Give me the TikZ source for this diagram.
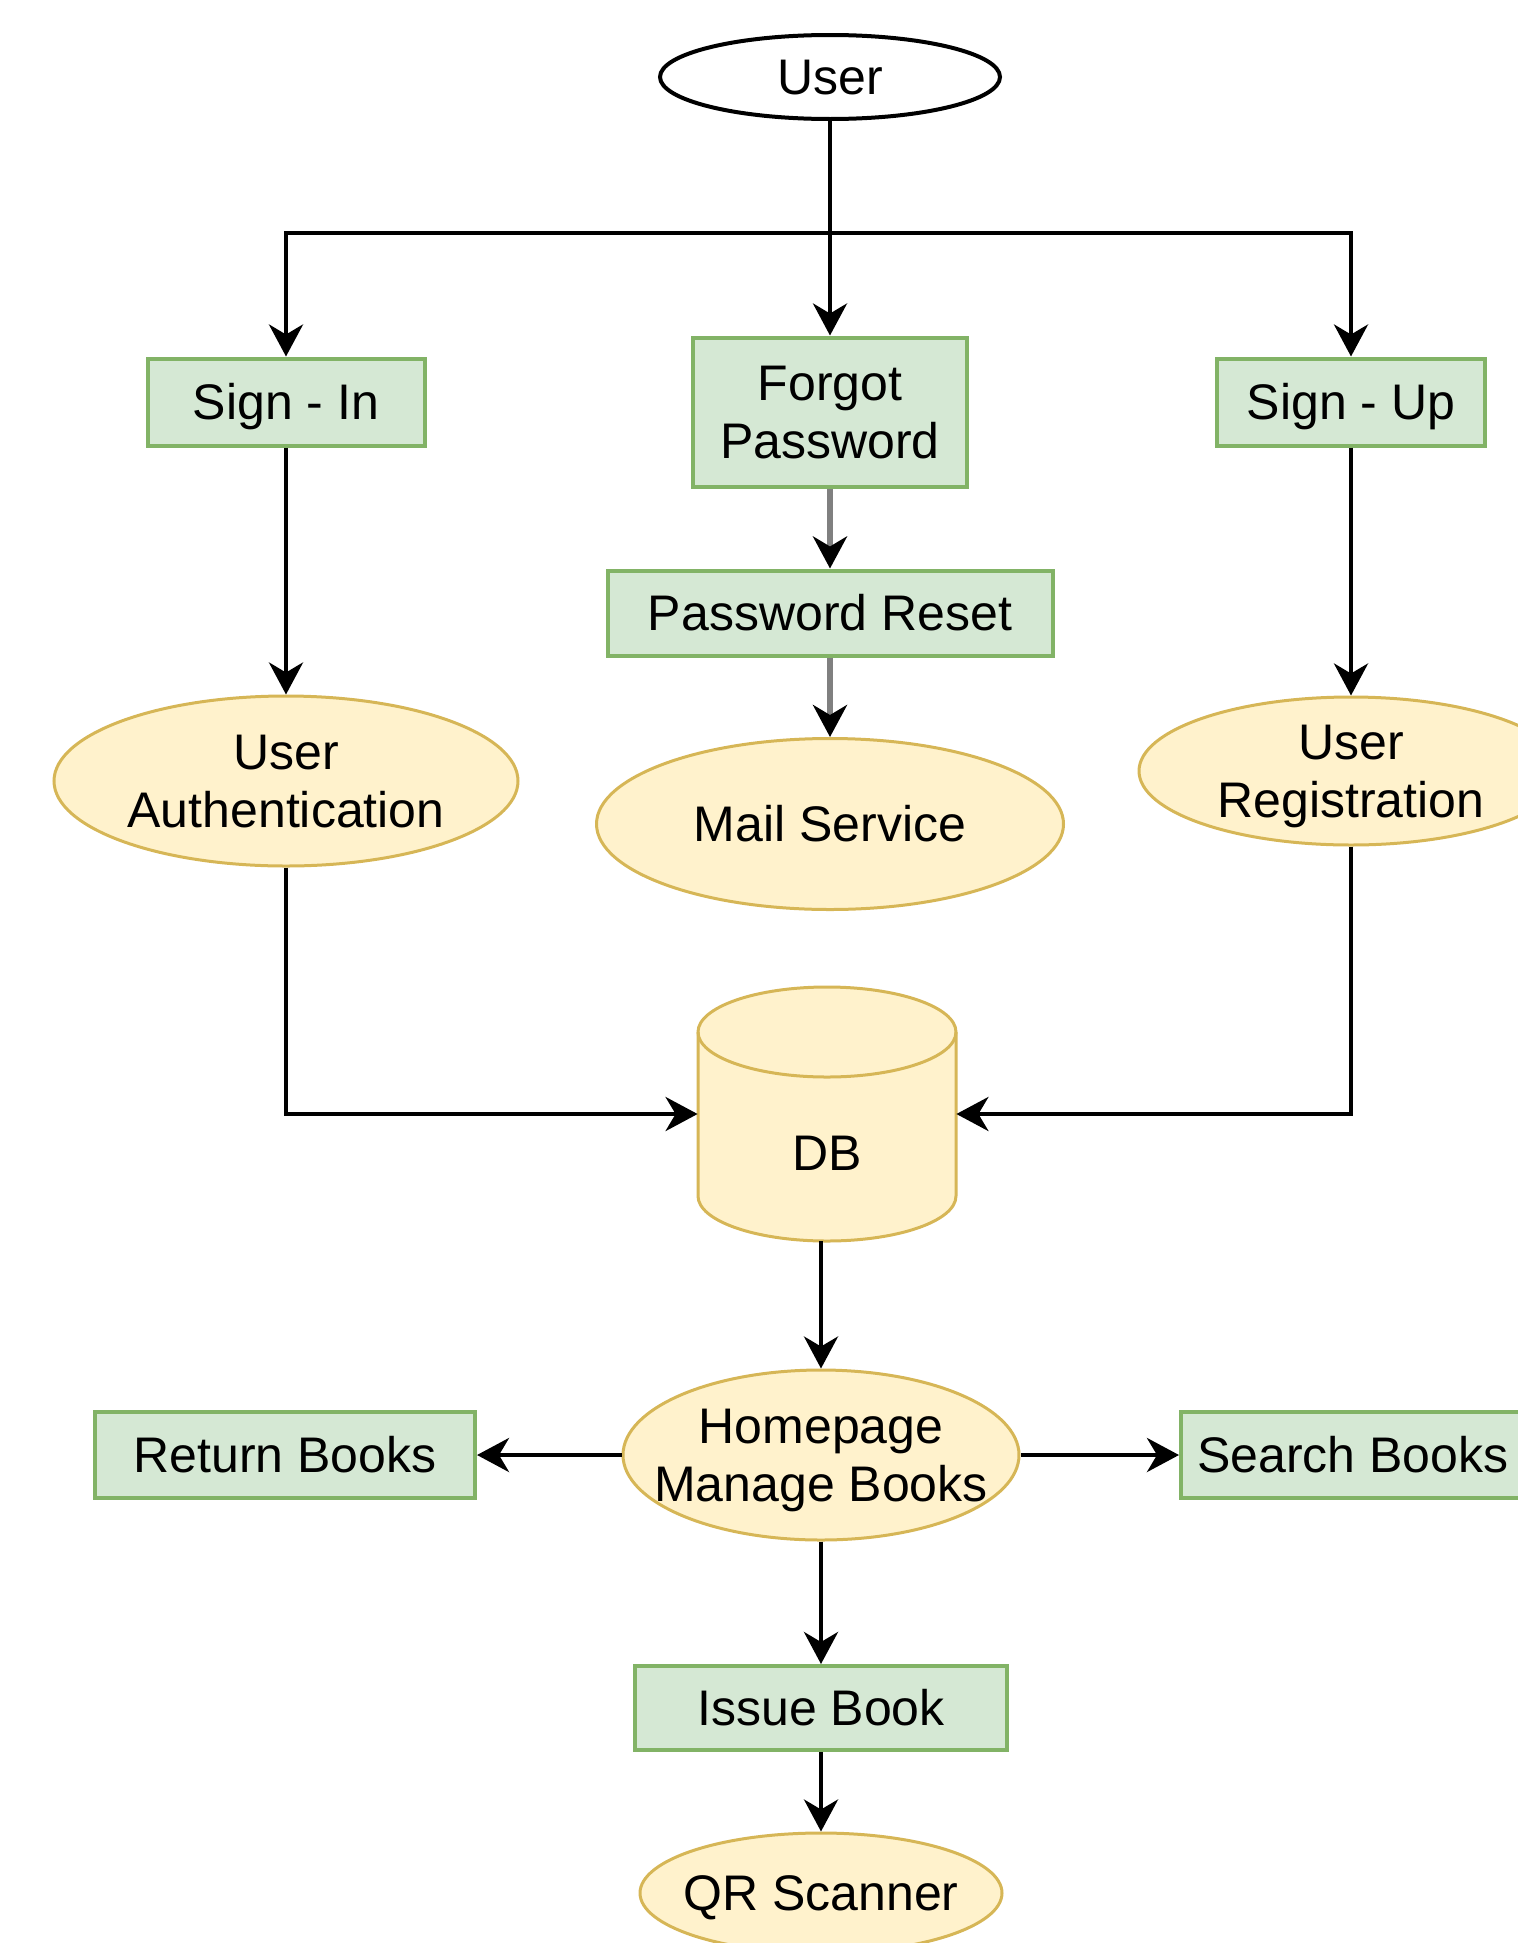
\documentclass[tikz,border=0pt]{standalone}
\usepackage{fontspec}
\setmainfont{Liberation Sans}
\usetikzlibrary{shapes.geometric, arrows.meta}
\definecolor{boxfill}{HTML}{D5E8D4}
\definecolor{boxline}{HTML}{82B366}
\definecolor{ovalfill}{HTML}{FFF2CC}
\definecolor{ovalline}{HTML}{D6B656}
\definecolor{linkgray}{HTML}{808080}
% line strut: every text line gets the same ascent and descent
\newcommand\ls{\rule[-0.22em]{0pt}{1.14em}}

\begin{document}
\begin{tikzpicture}[x=0.5pt, y=-0.5pt,
  txt/.style={font=\fontsize{25}{29}\selectfont, align=center, text=black},
  box/.style={rectangle, draw=boxline, fill=boxfill, line width=2pt, inner sep=0pt, txt},
  oval/.style={ellipse, draw=ovalline, fill=ovalfill, line width=1.5pt, inner sep=0pt},
  link/.style={draw=black, line width=2.2pt, -{Stealth[length=16pt, width=17pt, inset=5pt, color=black]}},
  greylink/.style={link, draw=linkgray, line width=3pt}
]
\useasboundingbox (0,0) rectangle (1517,1943);

% entry point
\node[ellipse, draw=black, fill=white, line width=2pt, minimum width=170pt,
      minimum height=42pt, inner sep=0pt, txt] (user) at (830,77) {\ls User};

% account actions
\node[box, minimum width=138.5pt, minimum height=43.5pt] (signin) at (286,402) {\ls Sign - In};
\node[box, minimum width=137pt, minimum height=74.5pt] (forgot) at (830,412) {\ls Forgot\\\ls Password};
\node[box, minimum width=134pt, minimum height=43.5pt] (signup) at (1351,402) {\ls Sign - Up};
\node[box, minimum width=222.5pt, minimum height=42.5pt] (reset) at (830,613) {\ls Password Reset};

% services
\node[oval, minimum width=232pt, minimum height=85pt,
      label={[txt]center:{\ls User\\\ls Authentication}}] (auth) at (286,781) {};
\node[oval, minimum width=233.5pt, minimum height=85.5pt,
      label={[txt]center:{\ls Mail Service}}] (mail) at (830,824) {};
\node[oval, minimum width=212pt, minimum height=74pt,
      label={[txt]center:{\ls User\\\ls Registration}}] (reg) at (1351,771) {};

% database cylinder
\node[minimum width=129pt, minimum height=127pt, inner sep=0pt] (db) at (827,1114) {};
\draw[draw=ovalline, fill=ovalfill, line width=1.5pt]
  (698,1032) -- (698,1196)
  arc[start angle=180, end angle=360, x radius=64.5pt, y radius=22.5pt]
  -- (956,1032)
  arc[start angle=0, end angle=180, x radius=64.5pt, y radius=22.5pt] -- cycle;
\draw[draw=ovalline, line width=1.5pt]
  (698,1032) arc[start angle=180, end angle=360, x radius=64.5pt, y radius=22.5pt];
\node[txt] (dbname) at (827,1153) {\ls DB};

% library functions
\node[oval, minimum width=198pt, minimum height=85pt,
      label={[txt]center:{\ls Homepage\\\ls Manage Books}}] (home) at (821,1455) {};
\node[box, minimum width=190pt, minimum height=43pt] (ret) at (285,1455) {\ls Return Books};
\node[box, minimum width=172pt, minimum height=43pt] (search) at (1353,1455) {\ls Search Books};
\node[box, minimum width=186pt, minimum height=42pt] (issue) at (821,1708) {\ls Issue Book};
\node[oval, minimum width=181pt, minimum height=60pt,
      label={[txt]center:{\ls QR Scanner}}] (qr) at (821,1893) {};

% connectors
\coordinate (split) at (830,233);
\draw[link] (user.south) -- (forgot.north);
\draw[link] (split) -| (signin.north);
\draw[link] (split) -| (signup.north);
\draw[link] (signin.south) -- (auth.north);
\draw[link] (signup.south) -- (reg.north);
\draw[greylink] (forgot.south) -- (reset.north);
\draw[greylink] (reset.south) -- (mail.north);
\draw[link] (auth.south) |- (db.west);
\draw[link] (reg.south) |- (db.east);
\draw[link] (db.south -| home.north) -- (home.north);
\draw[link] (home.west) -- (ret.east);
\draw[link] (home.east) -- (search.west);
\draw[link] (home.south) -- (issue.north);
\draw[link] (issue.south) -- (qr.north);
\end{tikzpicture}
\end{document}
